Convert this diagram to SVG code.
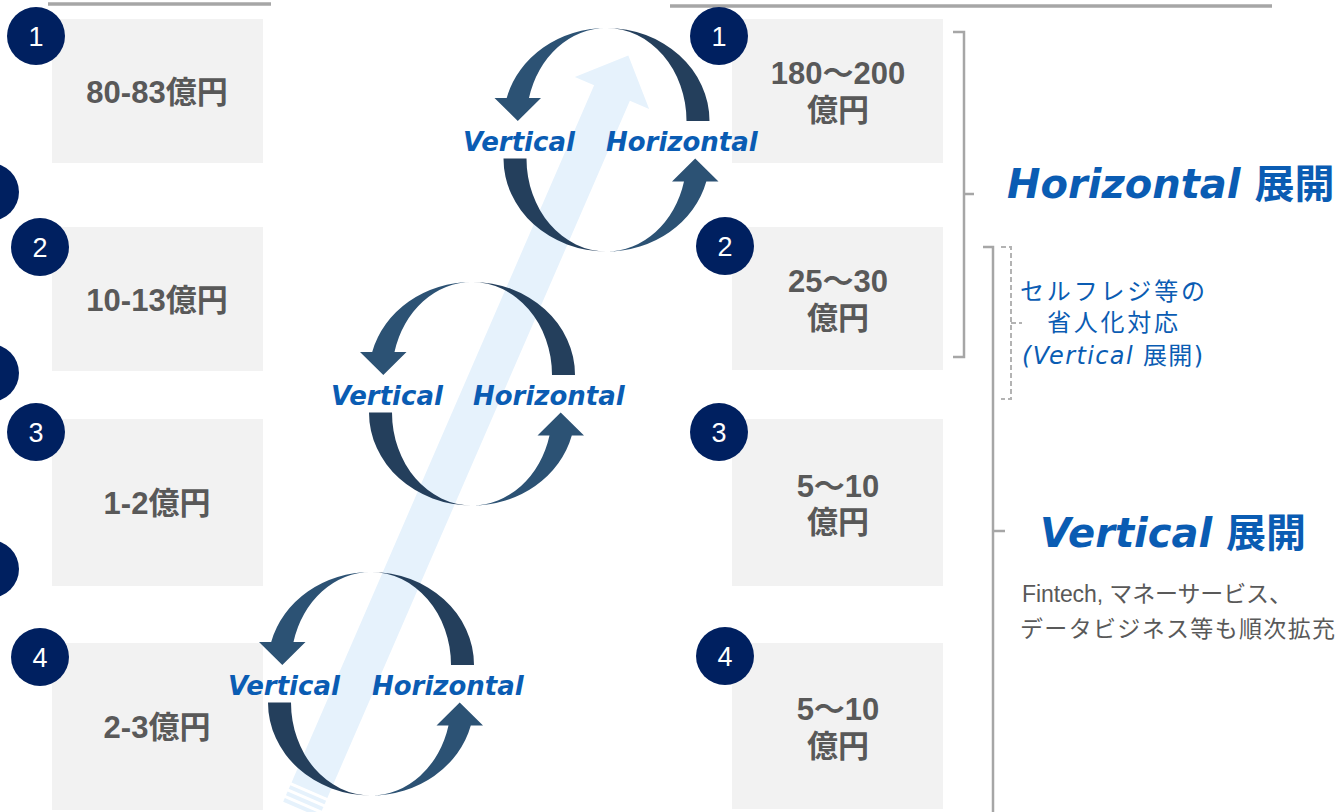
<svg xmlns="http://www.w3.org/2000/svg" xmlns:xlink="http://www.w3.org/1999/xlink" width="1337" height="812" viewBox="0 0 1337 812">
<style>
.box{fill:#f2f2f2}
.num{fill:#002060}
.numt{fill:#ffffff;font-family:"Liberation Sans",Arial,sans-serif;font-size:27px;text-anchor:middle}
.amt{fill:#595959;font-family:"Liberation Sans","Noto Sans CJK JP",sans-serif;font-size:31px;font-weight:bold;text-anchor:middle}
.lbl{fill:#0a5cb3;font-family:"DejaVu Sans","Noto Sans CJK JP",sans-serif;font-size:26px;font-weight:bold;font-style:italic}
.big{fill:#0a5cb3;font-family:"DejaVu Sans","Noto Sans CJK JP",sans-serif;font-size:40px;font-weight:bold}
.note{fill:#0a5cb3;font-family:"DejaVu Sans","Noto Sans CJK JP",sans-serif;font-size:24px}
.desc{fill:#595959;font-family:"Liberation Sans","Noto Sans CJK JP",sans-serif;font-size:23px}
.light{fill:#2c5274}
.dark{fill:#243f5c}
.brk{fill:none;stroke:#a6a6a6;stroke-width:2.5}
.dash{fill:none;stroke:#b3b3b3;stroke-width:2;stroke-dasharray:5 3}
</style>
<defs>
<g id="cycle">
<path class="dark" d="M0,-93 A103 93 0 0 1 103,0 L80,0 A80 93 0 0 0 0,-93Z"/>
<path class="light" d="M0,-93 A103 93 0 0 0 -99.8,-23 L-112,-23 L-88.7,0 L-65.5,-23 L-77.5,-23 A80 93 0 0 1 0,-93Z"/>
<path class="dark" d="M-103,37.5 L-80,37.5 A80 93 0 0 0 0,130.5 A103 93 0 0 1 -103,37.5Z"/>
<path class="light" d="M0,130.5 A103 93 0 0 0 99.8,60.5 L112,60.5 L88.7,37.5 L65.5,60.5 L77.5,60.5 A80 93 0 0 1 0,130.5Z"/>
</g>
</defs>
<rect width="1337" height="812" fill="#ffffff"/>
<g id="header-lines">
<line x1="48" y1="4" x2="271" y2="4" stroke="#a6a6a6" stroke-width="3.5"/>
<line x1="670" y1="6" x2="1272" y2="6" stroke="#a6a6a6" stroke-width="3.5"/>
</g>
<g id="edge-circles">
<circle class="num" cx="-10" cy="192" r="29"/>
<circle class="num" cx="-10" cy="373" r="29"/>
<circle class="num" cx="-10" cy="569" r="29"/>
</g>
<g id="left-1"><rect class="box" x="52" y="19" width="211" height="144"/><text class="amt" x="157" y="103">80-83億円</text></g>
<g id="left-2"><rect class="box" x="52" y="227" width="211" height="144"/><text class="amt" x="157" y="311">10-13億円</text></g>
<g id="left-3"><rect class="box" x="52" y="419" width="211" height="167"/><text class="amt" x="157" y="514">1-2億円</text></g>
<g id="left-4"><rect class="box" x="52" y="643" width="211" height="167"/><text class="amt" x="157" y="738">2-3億円</text></g>
<g id="right-1"><rect class="box" x="732" y="19" width="211" height="144"/><text class="amt" x="838" y="84">180～200</text><text class="amt" x="838" y="121">億円</text></g>
<g id="right-2"><rect class="box" x="732" y="227" width="211" height="143"/><text class="amt" x="838" y="292">25～30</text><text class="amt" x="838" y="329">億円</text></g>
<g id="right-3"><rect class="box" x="732" y="419" width="211" height="167"/><text class="amt" x="838" y="497">5～10</text><text class="amt" x="838" y="533">億円</text></g>
<g id="right-4"><rect class="box" x="732" y="643" width="211" height="166"/><text class="amt" x="838" y="720">5～10</text><text class="amt" x="838" y="757">億円</text></g>
<g id="badges">
<circle class="num" cx="36" cy="36" r="29"/><text class="numt" x="36" y="46">1</text>
<circle class="num" cx="40" cy="247" r="29"/><text class="numt" x="40" y="257">2</text>
<circle class="num" cx="36" cy="432" r="29"/><text class="numt" x="36" y="442">3</text>
<circle class="num" cx="40" cy="657" r="29"/><text class="numt" x="40" y="667">4</text>
<circle class="num" cx="719" cy="36" r="29"/><text class="numt" x="719" y="46">1</text>
<circle class="num" cx="725" cy="246" r="29"/><text class="numt" x="725" y="256">2</text>
<circle class="num" cx="719" cy="432" r="29"/><text class="numt" x="719" y="442">3</text>
<circle class="num" cx="725" cy="656" r="29"/><text class="numt" x="725" y="666">4</text>
</g>
<g id="growth-arrow" transform="translate(612 93) rotate(23.46)" fill="#e6f2fc">
<polygon points="0,-41 40.5,0 19.5,0 19.5,760 -19.5,760 -19.5,0 -40.5,0"/>
<rect x="-19.5" y="763" width="39" height="4"/>
<rect x="-19.5" y="770" width="39" height="4"/>
<rect x="-19.5" y="777" width="39" height="4"/>
</g>
<g id="cycle-top">
<use xlink:href="#cycle" href="#cycle" transform="translate(606.5 121)"/>
<text class="lbl" x="463" y="151">Vertical</text>
<text class="lbl" x="606" y="151">Horizontal</text>
</g>
<g id="cycle-middle">
<use xlink:href="#cycle" href="#cycle" transform="translate(472 375)"/>
<text class="lbl" x="331" y="405">Vertical</text>
<text class="lbl" x="473" y="405">Horizontal</text>
</g>
<g id="cycle-bottom">
<use xlink:href="#cycle" href="#cycle" transform="translate(371 665)"/>
<text class="lbl" x="228" y="695">Vertical</text>
<text class="lbl" x="372" y="695">Horizontal</text>
</g>
<g id="connectors">
<path class="brk" d="M953,32 H964 V357 H953 M964,194 H974"/>
<path class="brk" d="M983,247 H993 V812 M993,531 H1005"/>
<path class="dash" d="M1001,247 H1011 V399 H1001 M1011,323 H1022"/>
</g>
<g id="horizontal-label">
<text class="big" x="1007" y="198"><tspan font-style="italic">Horizontal</tspan> 展開</text>
</g>
<g id="self-register-note">
<text class="note" x="1020" y="300" textLength="185">セルフレジ等の</text>
<text class="note" x="1047" y="331" textLength="131">省人化対応</text>
<text class="note" x="1022" y="364" textLength="181"><tspan font-style="italic">(Vertical</tspan> 展開)</text>
</g>
<g id="vertical-label">
<text class="big" x="1040" y="547"><tspan font-style="italic">Vertical</tspan> 展開</text>
<text class="desc" x="1022" y="602" textLength="270">Fintech, マネーサービス、</text>
<text class="desc" x="1020" y="637" textLength="315">データビジネス等も順次拡充</text>
</g>
</svg>
